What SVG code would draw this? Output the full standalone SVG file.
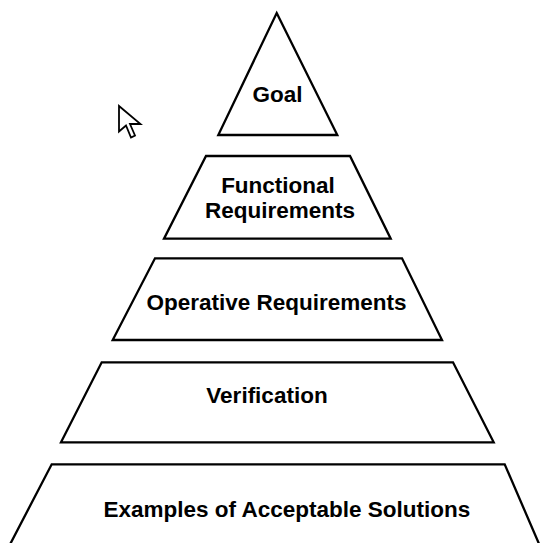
<svg xmlns="http://www.w3.org/2000/svg" width="542" height="543" viewBox="0 0 542 543">
<style>
.shape{fill:#fff;stroke:#000;stroke-width:2.3;stroke-linejoin:miter}
.lbl{font-family:"Liberation Sans",Arial,sans-serif;font-weight:bold;font-size:22.5px;fill:#000;text-anchor:middle}
.cursor{fill:#fff;stroke:#000;stroke-width:1.8;stroke-linejoin:miter}
</style>
<rect width="542" height="543" fill="#fff"/>
<g id="goal">
<polygon class="shape" points="276.7,13 337.3,135 218.3,135"/>
<text class="lbl" x="277.5" y="101.7">Goal</text>
</g>
<g id="functional">
<polygon class="shape" points="206,156 350,156 390.7,238.7 164,238.7"/>
<text class="lbl" x="278" y="193.3">Functional</text>
<text class="lbl" x="280" y="218.3">Requirements</text>
</g>
<g id="operative">
<polygon class="shape" points="155,258.3 402,258.3 442,340 112.7,340"/>
<text class="lbl" x="276.5" y="310">Operative Requirements</text>
</g>
<g id="verification">
<polygon class="shape" points="101.7,362.3 453,362.3 493.7,442.3 61,442.3"/>
<text class="lbl" x="267" y="403.3">Verification</text>
</g>
<g id="examples">
<polygon class="shape" points="51.7,464.3 504.7,464.3 546,560 1.9,560"/>
<text class="lbl" x="286.9" y="516.7">Examples of Acceptable Solutions</text>
</g>
<g id="connectors"></g>
<path class="cursor" d="M119,106 L119,131.5 L126,125.5 L131,137.5 L135,135.5 L130,124 L140.5,124 Z"/>
</svg>
